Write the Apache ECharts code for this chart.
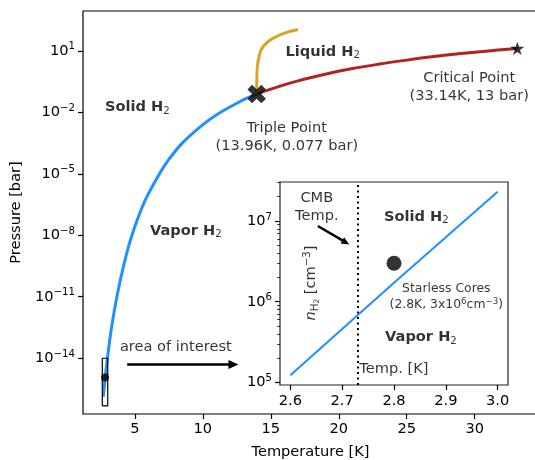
<!DOCTYPE html>
<html>
<head>
<meta charset="utf-8">
<script src="https://cdn.jsdelivr.net/npm/echarts@6/dist/echarts.min.js"></script>
<style>
  html, body { margin: 0; padding: 0; background: #fff; }
  #chart { width: 535px; height: 460px; }
</style>
</head>
<body>
<div id="chart"></div>
<script>
// ---- Phase diagram of H2 (temperature in K, pressure in bar) ----
// Solid-vapor (sublimation) boundary
const sublimationT = [2.67, 2.82, 2.94, 3.25, 3.68, 4.2, 4.78, 5.7, 6.84, 7.5, 8.5, 10.0, 11.1, 12.5, 13.2, 13.96];
const sublimationP = [1.3e-16, 1.26e-15, 6.3e-15, 2.4e-13, 1.05e-11, 4.0e-10, 1e-8, 4.3e-7, 1.1e-5, 5.0e-5, 3.2e-4, 2.5e-3, 8.3e-3, 0.0275, 0.047, 0.077];
// Liquid-vapor boundary, triple point to critical point
const vaporizationT = [13.96, 15, 17, 19, 21, 23, 25, 27, 29, 31, 33.14];
const vaporizationP = [0.077, 0.135, 0.34, 0.72, 1.35, 2.25, 3.5, 5.2, 7.3, 9.8, 13];
// Solid-liquid (melting) boundary
const meltingT = [13.96, 13.97, 14.0, 14.2, 14.5, 15.0, 16.0, 17.0];
const meltingP = [0.077, 0.3, 1.4, 8, 18, 35, 72, 110];
// Special points
const triplePoint = [13.96, 0.077];
const criticalPoint = [33.14, 13];
const starlessCoreP = [2.8, 1.16e-15];
// Box around the region enlarged in the inset
const areaT = [2.6, 3.0];
const areaP = [4.7e-17, 1e-14];
// Axis ticks
const mainTempTicks = [5, 10, 15, 20, 25, 30];
const mainPressureTicks = [1e-14, 1e-11, 1e-8, 1e-5, 1e-2, 1e1];

// ---- Inset: density of H2 at the sublimation boundary (cm^-3) ----
const insetT = [2.6, 2.7, 2.8, 2.9, 3.0];
const insetN = [1.23e5, 4.6e5, 1.72e6, 6.3e6, 2.3e7];
const cmbTemp = 2.725;
const starlessCore = [2.8, 3e6];
const insetTempTicks = [2.6, 2.7, 2.8, 2.9, 3.0];
const insetDensityTicks = [1e5, 1e6, 1e7];
const insetDensityMinor = [2e5, 3e5, 4e5, 5e5, 6e5, 7e5, 8e5, 9e5, 2e6, 3e6, 4e6, 5e6, 6e6, 7e6, 8e6, 9e6, 2e7, 3e7];

const FONT = 'DejaVu Sans';
const FS = 14.6;
const FS_SMALL = 12.4;
const MINUS = '\u2212';

// Rich-text styles for super/subscripts
const RICH = {
  b: { fontFamily: FONT, fontSize: FS, color: '#000', lineHeight: 18, verticalAlign: 'middle' },
  bb: { fontFamily: FONT, fontSize: FS, color: '#000', fontWeight: 'bold', lineHeight: 18, verticalAlign: 'middle' },
  i: { fontFamily: FONT, fontSize: FS, color: '#000', fontStyle: 'italic', lineHeight: 18, verticalAlign: 'middle' },
  sup: { fontFamily: FONT, fontSize: 10.2, color: '#000', lineHeight: 10, verticalAlign: 'top' },
  sub: { fontFamily: FONT, fontSize: 10.2, color: '#000', lineHeight: 10, verticalAlign: 'bottom' },
  sub2: { fontFamily: FONT, fontSize: 7.5, color: '#000', lineHeight: 5, verticalAlign: 'bottom' },
  s: { fontFamily: FONT, fontSize: FS_SMALL, color: '#000', lineHeight: 15.7, verticalAlign: 'middle' },
  ssup: { fontFamily: FONT, fontSize: 8.7, color: '#000', lineHeight: 8.5, verticalAlign: 'top' }
};
function pow10Label(v) {
  const e = Math.round(Math.log10(v));
  return '{b|10}{sup|' + String(e).replace('-', MINUS) + '}';
}
function zip(a, b) { return a.map((x, i) => [x, b[i]]); }

// Marker shapes
function starPath() {
  let d = '';
  for (let i = 0; i < 10; i++) {
    const r = i % 2 === 0 ? 1 : 0.382;
    const a = -Math.PI / 2 + i * Math.PI / 5;
    d += (i ? 'L' : 'M') + (r * Math.cos(a)).toFixed(4) + ',' + (r * Math.sin(a)).toFixed(4) + ' ';
  }
  return 'path://' + d + 'Z';
}
function crossPath() {
  // plus sign rotated by 45 degrees -> filled "X"
  const pts = [[-1, -3], [1, -3], [1, -1], [3, -1], [3, 1], [1, 1], [1, 3], [-1, 3], [-1, 1], [-3, 1], [-3, -1], [-1, -1]];
  const c = Math.SQRT1_2;
  return 'path://' + pts.map((p, i) => (i ? 'L' : 'M') + ((p[0] - p[1]) * c).toFixed(4) + ',' + ((p[0] + p[1]) * c).toFixed(4)).join(' ') + ' Z';
}

// Text annotations (anchored in data coordinates)
const mainNotes = [
  { pos: [5.18, 0.0174], text: '{bb|Solid H}{sub|2}' },
  { pos: [18.82, 8.9], text: '{bb|Liquid H}{sub|2}' },
  { pos: [8.75, 1.66e-8], text: '{bb|Vapor H}{sub|2}' },
  { pos: [16.18, 6.4e-4], text: '{b|Triple Point}\n{b|(13.96K, 0.077 bar)}' },
  { pos: [29.6, 0.175], text: '{b|Critical Point}\n{b|(33.14K, 13 bar)}' },
  { pos: [8.01, 3.4e-14], text: '{b|area of interest}' }
];
const insetNotes = [
  { pos: [2.651, 1.5e7], text: '{b|CMB}\n{b|Temp.}' },
  { pos: [2.843, 1.13e7], text: '{bb|Solid H}{sub|2}' },
  { pos: [2.901, 1.15e6], text: '{s|Starless Cores}\n{s|(2.8K, 3x10}{ssup|6}{s|cm}{ssup|' + MINUS + '3}{s|)}' },
  { pos: [2.852, 3.63e5], text: '{bb|Vapor H}{sub|2}' },
  { pos: [2.733, 1.47e5], text: '{b|Temp. [K]}', left: true }
];

function noteSeries(notes, gi) {
  return {
    type: 'scatter', xAxisIndex: gi, yAxisIndex: gi === 0 ? 0 : 1,
    symbolSize: 1, itemStyle: { color: 'rgba(0,0,0,0)' }, silent: true, z: 10,
    data: notes.map(n => ({
      value: n.pos,
      label: {
        show: true, position: 'inside', formatter: n.text, rich: RICH,
        align: n.left ? 'left' : 'center', verticalAlign: 'middle'
      }
    }))
  };
}

const chart = echarts.init(document.getElementById('chart'), null, { renderer: 'canvas' });
const tickLabel = { fontFamily: FONT, fontSize: FS, color: '#000' };
const tickLine = { color: '#000', width: 1.2 };

chart.setOption({
  animation: false,
  backgroundColor: '#fff',
  grid: [
    { left: 83, top: 11, width: 455, height: 403, containLabel: false, outerBoundsMode: 'none',
      show: true, borderColor: '#000', borderWidth: 1.2, backgroundColor: 'transparent' },
    { left: 280, top: 182, width: 228, height: 203, containLabel: false, outerBoundsMode: 'none',
      show: true, borderColor: '#222', borderWidth: 1.2, backgroundColor: '#fff', z: 5 }
  ],
  xAxis: [
    {
      gridIndex: 0, type: 'value', min: 1.18, max: 34.66,
      name: 'Temperature [K]', nameLocation: 'middle', nameGap: 31,
      nameTextStyle: { fontFamily: FONT, fontSize: FS, color: '#000' },
      axisLine: { show: false }, splitLine: { show: false },
      axisTick: { customValues: mainTempTicks, length: 5, lineStyle: tickLine },
      axisLabel: Object.assign({ customValues: mainTempTicks, margin: 8 }, tickLabel)
    },
    {
      gridIndex: 1, type: 'value', min: 2.58, max: 3.02, z: 6,
      axisLine: { show: false }, splitLine: { show: false },
      axisTick: { customValues: insetTempTicks, length: 5, lineStyle: tickLine },
      axisLabel: Object.assign({ customValues: insetTempTicks, margin: 9, formatter: v => v.toFixed(1) }, tickLabel)
    }
  ],
  yAxis: [
    {
      gridIndex: 0, type: 'log', logBase: 10, min: Math.pow(10, -16.72), max: Math.pow(10, 2.94),
      name: 'Pressure [bar]', nameLocation: 'middle', nameGap: 55, nameRotate: 90,
      nameTextStyle: { fontFamily: FONT, fontSize: FS, color: '#000' },
      axisLine: { show: false }, splitLine: { show: false }, minorTick: { show: false },
      axisTick: { customValues: mainPressureTicks, length: 5, lineStyle: tickLine },
      axisLabel: Object.assign({ customValues: mainPressureTicks, margin: 8, formatter: pow10Label, rich: RICH }, tickLabel)
    },
    {
      gridIndex: 1, type: 'log', logBase: 10, min: Math.pow(10, 4.969), max: Math.pow(10, 7.483), z: 6, position: 'left',
      axisLine: { show: false }, splitLine: { show: false },
      axisTick: { customValues: insetDensityTicks, length: 5, lineStyle: tickLine },
      axisLabel: Object.assign({ customValues: insetDensityTicks, margin: 8, formatter: pow10Label, rich: RICH }, tickLabel)
    },
    {
      gridIndex: 1, type: 'log', logBase: 10, min: Math.pow(10, 4.969), max: Math.pow(10, 7.483), z: 6, position: 'left',
      axisLine: { show: false }, splitLine: { show: false },
      axisTick: { customValues: insetDensityMinor, length: 2.8, lineStyle: { color: '#000', width: 0.8 } },
      axisLabel: { show: false }
    }
  ],
  series: [
    // main panel curves
    { type: 'line', xAxisIndex: 0, yAxisIndex: 0, data: zip(sublimationT, sublimationP), showSymbol: false, smooth: 0.3,
      lineStyle: { color: '#1E90FF', width: 3 }, silent: true, z: 3 },
    { type: 'line', xAxisIndex: 0, yAxisIndex: 0, data: zip(vaporizationT, vaporizationP), showSymbol: false, smooth: 0.4,
      lineStyle: { color: '#B22222', width: 3 }, silent: true, z: 3 },
    { type: 'line', xAxisIndex: 0, yAxisIndex: 0, data: zip(meltingT, meltingP), showSymbol: false, smooth: 0.4,
      lineStyle: { color: '#DAA520', width: 3 }, silent: true, z: 3 },
    // box marking the enlarged region
    { type: 'line', xAxisIndex: 0, yAxisIndex: 0, showSymbol: false, silent: true, z: 3,
      data: [[areaT[0], areaP[0]], [areaT[1], areaP[0]], [areaT[1], areaP[1]], [areaT[0], areaP[1]], [areaT[0], areaP[0]]],
      lineStyle: { color: '#000', width: 1.2 } },
    // special points
    { type: 'scatter', xAxisIndex: 0, yAxisIndex: 0, data: [triplePoint], symbol: crossPath(), symbolSize: 18.5,
      itemStyle: { color: '#000' }, silent: true, z: 4 },
    { type: 'scatter', xAxisIndex: 0, yAxisIndex: 0, data: [criticalPoint], symbol: starPath(), symbolKeepAspect: true, symbolSize: 14,
      itemStyle: { color: '#000' }, silent: true, z: 4 },
    { type: 'scatter', xAxisIndex: 0, yAxisIndex: 0, data: [starlessCoreP], symbol: 'circle', symbolSize: 8,
      itemStyle: { color: '#000' }, silent: true, z: 4 },
    // arrow pointing at the inset
    { type: 'line', xAxisIndex: 0, yAxisIndex: 0, data: [], silent: true,
      markLine: { silent: true, symbol: ['none', 'triangle'], symbolSize: [9, 10], animation: false,
        label: { show: false }, lineStyle: { color: '#000', width: 2.6, type: 'solid' },
        data: [[{ coord: [4.43, 5.0e-15] }, { coord: [12.25, 5.0e-15] }]] } },
    noteSeries(mainNotes, 0),

    // inset curves and markers
    { type: 'line', xAxisIndex: 1, yAxisIndex: 1, data: zip(insetT, insetN), showSymbol: false,
      lineStyle: { color: '#1E90FF', width: 2 }, silent: true, z: 7,
      markLine: { silent: true, symbol: ['none', 'none'], animation: false, label: { show: false },
        lineStyle: { color: '#000', width: 2, type: [2, 3.5] },
        data: [{ xAxis: cmbTemp }] } },
    { type: 'scatter', xAxisIndex: 1, yAxisIndex: 1, data: [starlessCore], symbol: 'circle', symbolSize: 15,
      itemStyle: { color: '#000' }, silent: true, z: 8 },
    { type: 'line', xAxisIndex: 1, yAxisIndex: 1, data: [], silent: true, z: 8,
      markLine: { silent: true, symbol: ['none', 'triangle'], symbolSize: [7, 8], animation: false,
        label: { show: false }, lineStyle: { color: '#000', width: 2.4, type: 'solid' },
        data: [[{ coord: [2.653, Math.pow(10, 6.938)] }, { coord: [2.707, Math.pow(10, 6.735)] }]] } },
    noteSeries(insetNotes, 1),
    // rotated density label inside the inset
    { type: 'scatter', xAxisIndex: 1, yAxisIndex: 1, symbolSize: 1, itemStyle: { color: 'rgba(0,0,0,0)' }, silent: true, z: 10,
      data: [{ value: [2.641, Math.pow(10, 6.232)],
        label: { show: true, position: 'inside', rotate: 90, align: 'center', verticalAlign: 'middle',
          formatter: '{i|n}{sub|H}{sub2|2}{b| [cm}{sup|' + MINUS + '3}{b|]}',
          rich: RICH } }] }
  ]
});
</script>
</body>
</html>
